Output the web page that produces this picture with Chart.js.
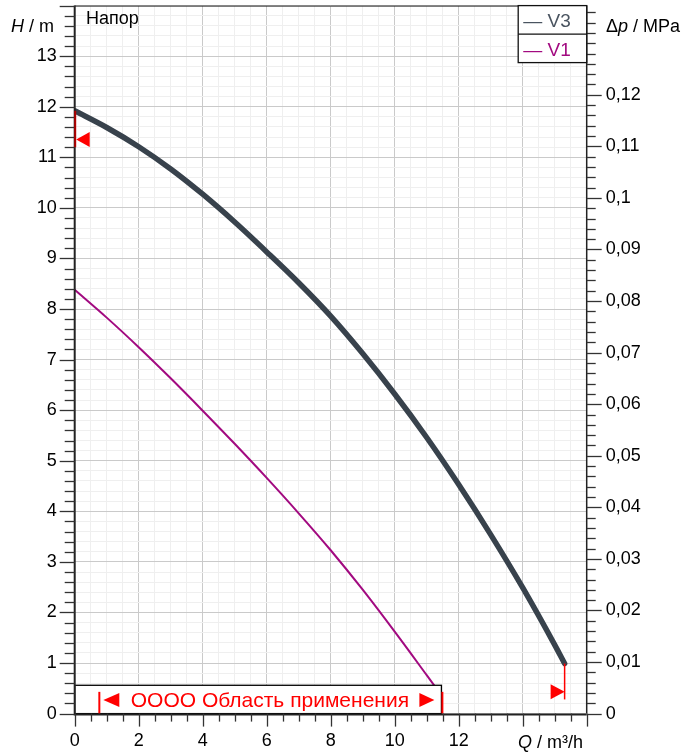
<!DOCTYPE html>
<html><head><meta charset="utf-8">
<script src="https://cdn.jsdelivr.net/npm/chart.js@4/dist/chart.umd.min.js"></script>
<style>html,body{margin:0;padding:0;background:#fff;}canvas{display:block;}</style>
</head><body>
<canvas id="c" width="692" height="753"></canvas>
<script>
// ---- data ----
const seriesNames = ['V3', 'V1'];
const v3Q = [0, 1, 2, 3, 4, 5, 6, 7, 8, 9, 10, 11, 12, 13, 14, 15, 15.31];
const v3H = [11.92, 11.59, 11.21, 10.77, 10.27, 9.72, 9.13, 8.52, 7.86, 7.12, 6.32, 5.46, 4.53, 3.54, 2.49, 1.36, 0.99];
const v1Q = [0, 1, 2, 3, 4, 5, 6, 7, 8, 9, 10, 11, 11.3];
const v1H = [8.38, 7.83, 7.245, 6.63, 5.99, 5.335, 4.66, 3.96, 3.23, 2.45, 1.62, 0.76, 0.5];
const xLabels = [0, 2, 4, 6, 8, 10, 12];
const yLabels = [0, 1, 2, 3, 4, 5, 6, 7, 8, 9, 10, 11, 12, 13];
const pLabels = [0, 0.01, 0.02, 0.03, 0.04, 0.05, 0.06, 0.07, 0.08, 0.09, 0.1, 0.11, 0.12];
const markerQ = [0, 15.31];
const markerTopH = [11.92, 0.99];
const markerBottomH = [11.2, 0.28];
const markerArrowH = [11.35, 0.43];
const rangeQ = [0.77, 11.49];
const rangeText = 'ОООО Область применения';

const Q_MAX = 16, H_MAX = 14, MPA_PER_M = 0.00980665;
const FONT = '"Liberation Sans", Arial, sans-serif';
const colV3 = '#38424c', colV1 = '#a20a80';
const near = (a, b) => Math.abs(a - b) < 1e-6;
const hasLabel = (arr, v) => arr.some(a => near(a, v));

function stepTicks(max, step) {
  const out = [];
  for (let i = 0; i * step <= max + 1e-9; i++) out.push({ value: Math.round(i * step * 1e6) / 1e6 });
  return out;
}
function noPad(s) { s.paddingTop = 0; s.paddingBottom = 0; s.paddingLeft = 0; s.paddingRight = 0; }

const decor = {
  id: 'decor',
  afterDatasetsDraw(chart) {
    const { ctx, chartArea: a, scales: { x, y } } = chart;
    ctx.save();
    // application range box
    const boxTop = y.getPixelForValue(0.56);
    const bx1 = a.left, bx2 = x.getPixelForValue(11.46);
    ctx.fillStyle = '#fff';
    ctx.fillRect(bx1, boxTop, bx2 - bx1, a.bottom - boxTop);
    ctx.strokeStyle = '#000'; ctx.lineWidth = 1.3;
    ctx.strokeRect(bx1, boxTop, bx2 - bx1, a.bottom - boxTop);
    ctx.fillStyle = '#ff0000'; ctx.strokeStyle = '#ff0000'; ctx.lineWidth = 2;
    const l = x.getPixelForValue(rangeQ[0]), r = x.getPixelForValue(rangeQ[1]);
    const yb1 = y.getPixelForValue(0.43), yb2 = a.bottom;
    [l, r].forEach(px => { ctx.beginPath(); ctx.moveTo(px, yb1); ctx.lineTo(px, yb2); ctx.stroke(); });
    const ym = (boxTop + a.bottom) / 2 + 0.5;
    ctx.beginPath(); ctx.moveTo(l + 4, ym); ctx.lineTo(l + 20, ym - 7); ctx.lineTo(l + 20, ym + 7); ctx.closePath(); ctx.fill();
    ctx.beginPath(); ctx.moveTo(r - 8, ym); ctx.lineTo(r - 23, ym - 7); ctx.lineTo(r - 23, ym + 7); ctx.closePath(); ctx.fill();
    ctx.font = '21px ' + FONT; ctx.textBaseline = 'middle'; ctx.textAlign = 'center';
    ctx.fillText(rangeText, (l + r) / 2 - 1, ym + 1);
    ctx.restore();
  },
  afterDraw(chart) {
    const { ctx, chartArea: a, scales: { x, y, y2 } } = chart;
    ctx.save();
    // borders
    ctx.strokeStyle = '#222';
    ctx.lineWidth = 1; ctx.beginPath(); ctx.moveTo(a.left, a.top + 0.5); ctx.lineTo(a.right, a.top + 0.5); ctx.stroke();
    ctx.lineWidth = 1.5; ctx.beginPath(); ctx.moveTo(a.right, a.top); ctx.lineTo(a.right, a.bottom); ctx.stroke();
    ctx.lineWidth = 2;
    ctx.beginPath(); ctx.moveTo(a.left, a.top); ctx.lineTo(a.left, a.bottom + 1); ctx.lineTo(a.right, a.bottom + 1); ctx.stroke();
    // tick marks
    ctx.strokeStyle = '#333'; ctx.lineWidth = 1.3;
    y.ticks.forEach(t => {
      const p = Math.round(y.getPixelForValue(t.value)) + 0.5;
      const len = near(t.value, Math.round(t.value)) ? 15 : 10;
      ctx.beginPath(); ctx.moveTo(a.left - len, p); ctx.lineTo(a.left, p); ctx.stroke();
    });
    y2.ticks.forEach(t => {
      const p = Math.round(y2.getPixelForValue(t.value)) + 0.5;
      const len = hasLabel(pLabels, t.value) ? 15 : 9;
      ctx.beginPath(); ctx.moveTo(a.right, p); ctx.lineTo(a.right + len, p); ctx.stroke();
    });
    x.ticks.forEach(t => {
      const p = Math.round(x.getPixelForValue(t.value)) + 0.5;
      const len = near(t.value % 2, 0) ? 13 : 8;
      ctx.beginPath(); ctx.moveTo(p, a.bottom); ctx.lineTo(p, a.bottom + len); ctx.stroke();
    });
    // duty point markers
    for (let i = 0; i < markerQ.length; i++) {
      const px = x.getPixelForValue(markerQ[i]);
      ctx.strokeStyle = i === 0 ? '#b00000' : '#ff0000'; ctx.lineWidth = i === 0 ? 2 : 1.5;
      const ox = i === 0 ? 0.5 : 0;
      ctx.beginPath(); ctx.moveTo(px + ox, y.getPixelForValue(markerTopH[i])); ctx.lineTo(px + ox, y.getPixelForValue(markerBottomH[i])); ctx.stroke();
      const py = y.getPixelForValue(markerArrowH[i]);
      ctx.fillStyle = '#ff0000'; ctx.beginPath();
      if (i === 0) { ctx.moveTo(px + 1.5, py); ctx.lineTo(px + 15, py - 7.5); ctx.lineTo(px + 15, py + 7.5); }
      else { ctx.moveTo(px, py); ctx.lineTo(px - 14, py - 7.5); ctx.lineTo(px - 14, py + 7.5); }
      ctx.closePath(); ctx.fill();
    }
    // titles
    ctx.fillStyle = '#000'; ctx.textBaseline = 'alphabetic'; ctx.textAlign = 'left';
    const it = (s, tx, ty) => { ctx.font = 'italic 18px ' + FONT; ctx.fillText(s, tx, ty); return ctx.measureText(s).width; };
    const nm = (s, tx, ty) => { ctx.font = '18px ' + FONT; ctx.fillText(s, tx, ty); return ctx.measureText(s).width; };
    let w = it('H', 11, 32); nm(' / m', 11 + w, 32);
    w = it('Q', 518, 748); nm(' / m³/h', 518 + w, 748);
    w = nm('\u0394', 606, 32); const w2 = it('p', 606 + w, 32); nm(' / MPa', 606 + w + w2, 32);
    nm('Напор', 86, 24);
    // legend
    const lw = 68.5, lx1 = a.right - lw, ly1 = a.top, rowH = 28.5;
    ctx.fillStyle = '#fff'; ctx.fillRect(lx1, ly1, lw, rowH * 2);
    ctx.strokeStyle = '#111'; ctx.lineWidth = 1.3;
    ctx.strokeRect(lx1, ly1, lw, rowH * 2);
    ctx.beginPath(); ctx.moveTo(lx1, ly1 + rowH); ctx.lineTo(lx1 + lw, ly1 + rowH); ctx.stroke();
    chart.data.datasets.forEach((ds, i) => {
      ctx.fillStyle = i === 0 ? '#4a5460' : ds.borderColor;
      ctx.font = '19px ' + FONT;
      ctx.fillText('\u2014 ' + ds.label, lx1 + 5, ly1 + 21.5 + i * rowH);
    });
    ctx.restore();
  }
};

new Chart(document.getElementById('c'), {
  type: 'line',
  data: {
    datasets: [
      { label: seriesNames[0], data: v3Q.map((q, i) => ({ x: q, y: v3H[i] })), borderColor: colV3, borderWidth: 5.5, pointRadius: 0, cubicInterpolationMode: 'monotone', fill: false, borderCapStyle: 'round' },
      { label: seriesNames[1], data: v1Q.map((q, i) => ({ x: q, y: v1H[i] })), borderColor: colV1, borderWidth: 2, pointRadius: 0, cubicInterpolationMode: 'monotone', fill: false }
    ]
  },
  options: {
    responsive: false, animation: false, devicePixelRatio: 1,
    layout: { padding: { top: 5.6, left: 0, right: 0, bottom: 0 } },
    plugins: { legend: { display: false }, tooltip: { enabled: false } },
    scales: {
      x: {
        type: 'linear', position: 'bottom', min: 0, max: Q_MAX,
        afterBuildTicks: s => { s.ticks = stepTicks(Q_MAX, 0.5); },
        afterFit: s => { s.height = 39.4; noPad(s); },
        border: { display: false },
        grid: { drawTicks: false, color: c => near(c.tick.value % 2, 0) ? '#cacaca' : '#efefef', lineWidth: 1 },
        ticks: { autoSkip: false, maxRotation: 0, padding: 17, color: '#000', font: { family: FONT, size: 18 },
          callback: v => hasLabel(xLabels, v) ? String(v) : '' }
      },
      y: {
        type: 'linear', position: 'left', min: 0, max: H_MAX,
        afterBuildTicks: s => { s.ticks = stepTicks(H_MAX, 0.2); },
        afterFit: s => { s.width = 74.7; noPad(s); },
        border: { display: false },
        grid: { drawTicks: false, color: c => near(c.tick.value, Math.round(c.tick.value)) ? '#cacaca' : '#efefef', lineWidth: 1 },
        ticks: { autoSkip: false, padding: 18, color: '#000', font: { family: FONT, size: 18 },
          callback: v => hasLabel(yLabels, v) ? String(Math.round(v)) : '' }
      },
      y2: {
        type: 'linear', position: 'right', min: 0, max: H_MAX * MPA_PER_M,
        afterBuildTicks: s => { s.ticks = stepTicks(H_MAX * MPA_PER_M, 0.002); },
        afterFit: s => { s.width = 105.3; noPad(s); },
        border: { display: false },
        grid: { drawTicks: false, drawOnChartArea: false },
        ticks: { autoSkip: false, padding: 19, color: '#000', font: { family: FONT, size: 18 },
          callback: v => hasLabel(pLabels, v) ? String(Math.round(v * 100) / 100).replace('.', ',') : '' }
      }
    }
  },
  plugins: [decor]
});
</script>
</body></html>
